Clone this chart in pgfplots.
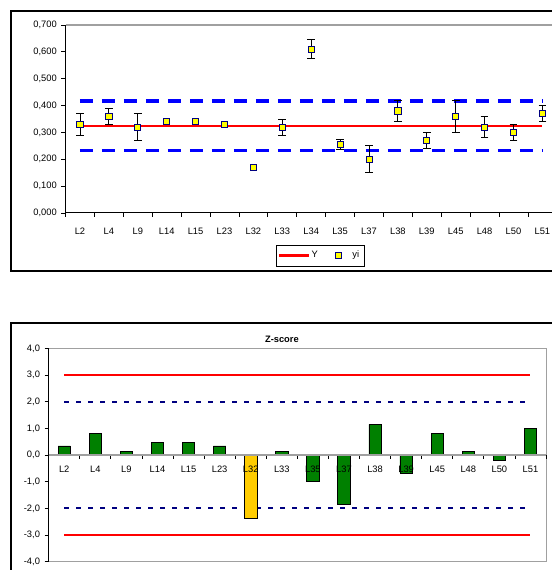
\documentclass[border=0pt]{standalone}
\usepackage{pgfplots}
\pgfplotsset{compat=1.18}
\usepackage{fontspec}
\setmainfont{Liberation Sans}
\definecolor{exred}{HTML}{FF0000}
\definecolor{exblue}{HTML}{0000FF}
\definecolor{exnavy}{HTML}{000080}
\definecolor{exyellow}{HTML}{FFFF00}
\definecolor{exgreen}{HTML}{008000}
\definecolor{exgold}{HTML}{FFCC00}
\definecolor{exgray}{HTML}{A0A0A0}

\pgfplotsset{
  linelegend/.style={legend image code/.code={%
    \fill[exred] (0pt,-0.7pt) rectangle (21pt,0.7pt);}},
  marklegend/.style={legend image code/.code={%
    \path (0pt,0pt) (16.5pt,0pt);
    \draw[##1] plot coordinates {(8.25pt,0pt)};}},
}

\pgfplotstableread{
x y
0 0.330
1 0.360
2 0.320
3 0.340
4 0.340
5 0.330
6 0.170
7 0.320
8 0.610
9 0.255
10 0.200
11 0.380
12 0.270
13 0.360
14 0.320
15 0.300
16 0.370
}\yitable

\pgfplotstableread{
x y e
0 0.330 0.040
1 0.360 0.030
2 0.320 0.050
7 0.320 0.030
8 0.610 0.036
9 0.255 0.018
10 0.200 0.050
11 0.380 0.040
12 0.270 0.030
13 0.360 0.060
14 0.320 0.040
15 0.300 0.030
16 0.370 0.030
}\errtable

\pgfplotstableread{
x z
0 0.34
1 0.81
2 0.14
3 0.48
4 0.48
5 0.34
7 0.14
8 -0.99
9 -1.83
10 1.15
11 -0.67
12 0.81
13 0.14
14 -0.20
15 1.01
}\zgreen

\pgfplotstableread{
x z
6 -2.36
}\zgold

\pgfplotstableread{
x y
0 0.325
16 0.325
}\ytable

\begin{document}
\begin{tikzpicture}
\useasboundingbox (0,0) rectangle (414pt,427.5pt);
% chart frames
\draw[line width=0.9pt] (8.25pt,224.25pt) rectangle (430pt,419.25pt);
\draw[line width=0.9pt] (430pt,185.25pt) -- (8.25pt,185.25pt) -- (8.25pt,-10pt);
% plot area borders (gray)
\draw[exgray, line width=0.9pt] (49.125pt,408.75pt) -- (430pt,408.75pt);
\draw[exgray, line width=0.75pt] (36.5pt,6.2pt) rectangle (409.5pt,166.2pt);

\begin{axis}[name=top, at={(49.125pt,267.75pt)}, anchor=south west,
  width=368.5pt, height=141pt, scale only axis,
  xmin=-0.5, xmax=16.5, ymin=0, ymax=0.7,
  axis x line*=bottom, axis y line*=left,
  x axis line style={black, line width=0.75pt, -},
  y axis line style={black, line width=0.75pt, -},
  xtick={0,...,16},
  xticklabels={L2,L4,L9,L14,L15,L23,L32,L33,L34,L35,L37,L38,L39,L45,L48,L50,L51},
  major x tick style={draw=none},
  minor xtick={-0.5,0.5,1.5,2.5,3.5,4.5,5.5,6.5,7.5,8.5,9.5,10.5,11.5,12.5,13.5,14.5,15.5,16.5},
  ytick={0,0.1,0.2,0.3,0.4,0.5,0.6,0.7},
  tick align=outside,
  major tick length=3pt, minor tick length=3pt,
  tick style={black, line width=0.6pt},
  /pgf/number format/assume math mode=true,
  tick label style={font=\fontsize{7}{8}\selectfont},
  xticklabel style={yshift=-4.5pt},
  yticklabel style={/pgf/number format/.cd, fixed, fixed zerofill, precision=3, use comma},
  legend style={at={(0.519,-0.226)}, anchor=center, legend columns=2,
    font=\fontsize{7}{8}\selectfont,
    inner xsep=2pt, inner ysep=2.5pt,
    /tikz/every even column/.append style={column sep=5pt}},
  clip=false,
]
\addplot[exblue, line width=2.5pt, dash pattern=on 9.5pt off 7pt, forget plot] coordinates {(0,0.417) (16,0.417)};
\addplot[exblue, line width=2.5pt, dash pattern=on 9.5pt off 7pt, forget plot] coordinates {(0,0.232) (16,0.232)};
\addplot[color=exred, line width=1.4pt, mark=none, forget plot] table[x=x, y=y] {\ytable};
\addplot[draw=none, mark=none, forget plot,
  error bars/.cd, y dir=both, y explicit,
  error bar style={draw=black, line width=0.6pt},
  error mark options={draw=black, rotate=90, mark size=2.9pt, line width=0.6pt}]
  table[x=x, y=y, y error=e] {\errtable};
\addplot[only marks, mark=square*, mark size=2.3pt, forget plot,
  mark options={fill=exyellow, draw=exnavy, line width=0.6pt}]
  table[x=x, y=y] {\yitable};
\addlegendimage{color=exred, line width=1.4pt, mark=none, linelegend}
\addlegendentry{Y}
\addlegendimage{only marks, mark=square*, mark size=2.3pt,
  mark options={fill=exyellow, draw=exnavy, line width=0.6pt}, marklegend}
\addlegendentry{yi}
\end{axis}

\begin{axis}[name=bot, at={(36.5pt,6.2pt)}, anchor=south west,
  width=373pt, height=160pt, scale only axis,
  xmin=-0.5, xmax=15.5, ymin=-4, ymax=4,
  axis on top,
  axis x line*=middle, axis y line*=left,
  x axis line style={draw=exgray, line width=1.5pt, -},
  y axis line style={draw=black, line width=0.75pt, -},
  xtick={0,...,15},
  xticklabels={L2,L4,L9,L14,L15,L23,L32,L33,L35,L37,L38,L39,L45,L48,L50,L51},
  major x tick style={draw=none},
  minor xtick={-0.5,0.5,1.5,2.5,3.5,4.5,5.5,6.5,7.5,8.5,9.5,10.5,11.5,12.5,13.5,14.5,15.5},
  ytick={-4,-3,-2,-1,0,1,2,3,4},
  hide obscured y ticks=false,
  hide obscured x ticks=false,
  tick align=outside,
  major tick length=3pt, minor tick length=3pt,
  tick style={black, line width=0.6pt},
  /pgf/number format/assume math mode=true,
  tick label style={font=\fontsize{7}{8}\selectfont},
  xticklabel style={yshift=-2pt},
  yticklabel style={/pgf/number format/.cd, fixed, fixed zerofill, precision=1, use comma},
  title={Z-score},
  title style={at={(0.469,1)}, anchor=center, yshift=1pt, font=\bfseries\fontsize{7}{8}\selectfont},
  clip=false,
]
\addplot[exred, line width=1.1pt] coordinates {(0,3) (15,3)};
\addplot[exred, line width=1.1pt] coordinates {(0,-3) (15,-3)};
\addplot[exnavy, line width=1.5pt, dash pattern=on 3.75pt off 5.25pt] coordinates {(0,2) (15,2)};
\addplot[exnavy, line width=1.5pt, dash pattern=on 3.75pt off 5.25pt] coordinates {(0,-2) (15,-2)};
\addplot[ybar, bar width=9.3pt, bar shift=0pt, fill=exgreen, draw=black, line width=0.5pt]
  table[x=x, y=z] {\zgreen};
\addplot[ybar, bar width=9.3pt, bar shift=0pt, fill=exgold, draw=black, line width=0.5pt]
  table[x=x, y=z] {\zgold};
\end{axis}
\end{tikzpicture}
\end{document}
